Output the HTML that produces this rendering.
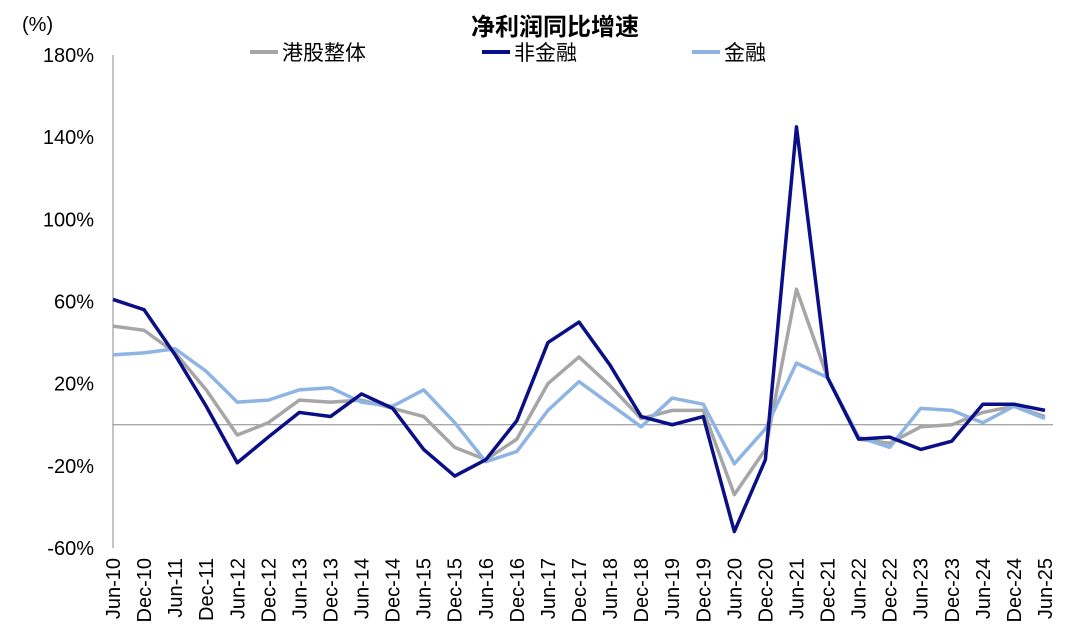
<!DOCTYPE html>
<html><head><meta charset="utf-8"><style>
body{margin:0;background:#fff;}
svg{display:block;font-family:"Liberation Sans","Noto Sans CJK SC",sans-serif;}
</style></head><body>
<svg id="c" width="1080" height="643"></svg>
<script>
const categories=["Jun-10","Dec-10","Jun-11","Dec-11","Jun-12","Dec-12","Jun-13","Dec-13","Jun-14","Dec-14","Jun-15","Dec-15","Jun-16","Dec-16","Jun-17","Dec-17","Jun-18","Dec-18","Jun-19","Dec-19","Jun-20","Dec-20","Jun-21","Dec-21","Jun-22","Dec-22","Jun-23","Dec-23","Jun-24","Dec-24","Jun-25"];
const hkAll=[48,46,35,17,-5,1,12,11,12,8,4,-11,-17,-7,20,33,19,3,7,7,-34,-12,66,23,-7,-9,-1,0,6,9,4];
const nonFin=[61,56,34,9,-18.5,-6,6,4,15,8,-12,-25,-17,2,40,50,29,4,0,4,-52,-17,145,23,-7,-6,-12,-8,10,10,7];
const fin=[34,35,37,26,11,12,17,18,11,9,17,1,-18,-13,7,21,10,-1,13,10,-19,-2,30,23,-6,-11,8,7,1,9,3];
const yTicks=[-60,-20,20,60,100,140,180];
const NS="http://www.w3.org/2000/svg";
const svg=document.getElementById('c');
const x0=113,x1=1045,yTop=55,yBot=548;
const xs=i=>x0+i*(x1-x0)/(categories.length-1);
const ys=v=>yBot-(v+60)*(yBot-yTop)/240;
function mk(t,a,p){const e=document.createElementNS(NS,t);for(const k in a)e.setAttribute(k,a[k]);(p||svg).appendChild(e);return e;}
let e=mk('line',{x1:x0,y1:yTop,x2:x0,y2:yBot,stroke:'#888','stroke-width':1});


e=mk('line',{x1:x0,y1:ys(0),x2:x1+8,y2:ys(0),stroke:'#888','stroke-width':1});


yTicks.forEach(v=>{
 const t=mk('text',{x:x0-19,y:ys(v)+7,'text-anchor':'end','font-size':20,fill:'#000'});t.textContent=v+'%';
 
 
});
categories.forEach((c,i)=>{
 const t=mk('text',{x:0,y:0,'text-anchor':'end','font-size':20,fill:'#000',transform:`translate(${xs(i)+7},${558}) rotate(-90)`});t.textContent=c;
 
 
});
function line(d,col,name){
 const p=mk('polyline',{points:d.map((v,i)=>xs(i)+','+ys(v)).join(' '),fill:'none',stroke:col,'stroke-width':3.5,'stroke-linejoin':'round'});
 
 
}
line(hkAll,'#a6a6a6','series-hk-all');
line(fin,'#8eb4e3','series-financial');
line(nonFin,'#0b0f85','series-non-financial');
let t=mk('text',{x:555,y:35,'text-anchor':'middle','font-size':24,'font-weight':'bold'});t.textContent='净利润同比增速';


t=mk('text',{x:22,y:31,'font-size':20});t.textContent='(%)';


[['港股整体','#a6a6a6',250],['非金融','#0b0f85',482],['金融','#8eb4e3',692]].forEach(([n,c,x])=>{
 const g=mk('g',{});
 
 
 mk('line',{x1:x,y1:52,x2:x+28,y2:52,stroke:c,'stroke-width':4},g);
 const tt=mk('text',{x:x+32,y:60,'font-size':21},g);tt.textContent=n;
});
</script>
</body></html>
